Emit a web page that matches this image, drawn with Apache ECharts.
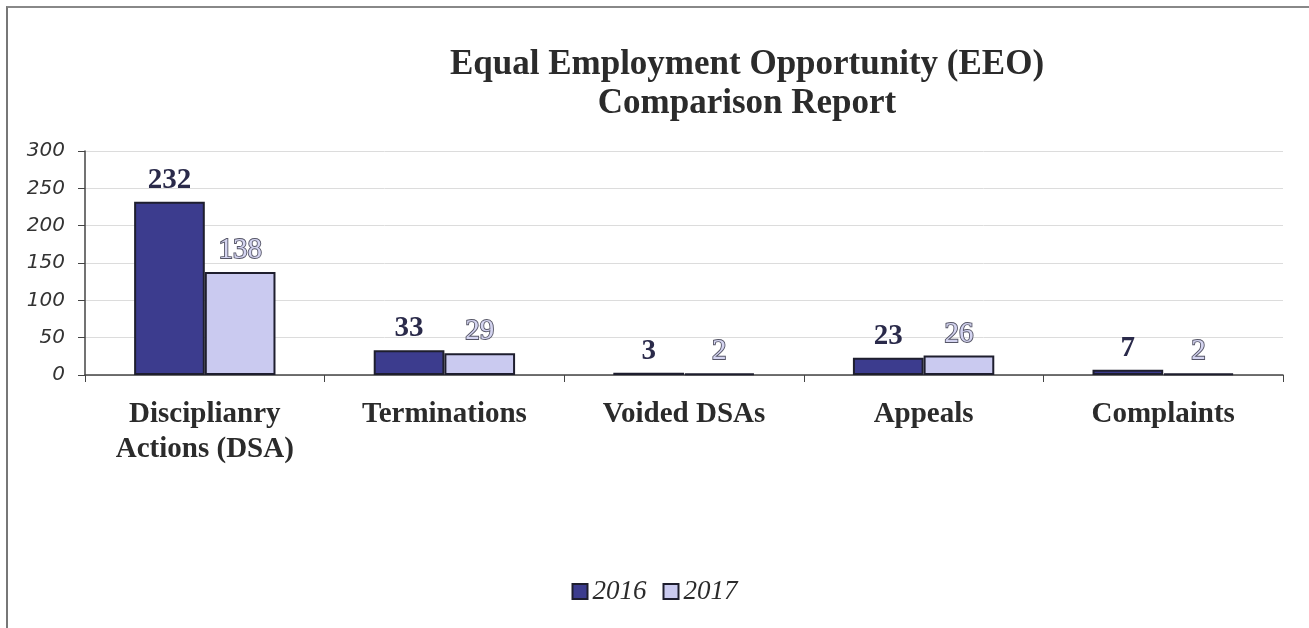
<!DOCTYPE html>
<html>
<head>
<meta charset="utf-8">
<script src="https://cdn.jsdelivr.net/npm/echarts@6/dist/echarts.min.js"></script>
<style>
  html, body { margin: 0; padding: 0; background: #fff; }
  #frame { position: absolute; left: 6px; top: 6px; width: 1303px; height: 640px; border-left: 2px solid #777; border-top: 2px solid #888; box-sizing: border-box; }
  #chart { width: 1309px; height: 628px; position: absolute; left: 0; top: 0; }
</style>
</head>
<body>
<div id="frame"></div>
<div id="chart"></div>
<script>
// Categories and yearly counts
const categories = ['Disciplianry\nActions (DSA)', 'Terminations', 'Voided DSAs', 'Appeals', 'Complaints'];
const values2016 = [232, 33, 3, 23, 7];
const values2017 = [138, 29, 2, 26, 2];
const yTicks = [0, 50, 100, 150, 200, 250, 300];

const chart = echarts.init(document.getElementById('chart'));

const serif = '"Liberation Serif", "Times New Roman", serif';
const sans = '"DejaVu Sans", "Open Sans", sans-serif';

chart.setOption({
  backgroundColor: 'transparent',
  animation: false,
  title: {
    text: 'Equal Employment Opportunity (EEO)\nComparison Report',
    left: 742,
    textAlign: 'center',
    top: 40,
    textStyle: { fontFamily: serif, fontWeight: 'bold', fontSize: 35, lineHeight: 39, color: '#2b2b2b' }
  },
  legend: {
    bottom: 18,
    left: 'center',
    itemWidth: 15,
    itemHeight: 15,
    itemGap: 16,
    icon: 'rect',
    textStyle: { fontFamily: serif, fontStyle: 'italic', fontSize: 27, color: '#2b2b2b' },
    data: ['2016', '2017']
  },
  grid: { left: 85, right: 26, top: 151, bottom: 253, containLabel: false },
  xAxis: {
    type: 'category',
    data: categories,
    axisLine: { lineStyle: { color: '#444', width: 1.5 } },
    axisTick: { show: true, length: 7, lineStyle: { color: '#444' } },
    axisLabel: {
      fontFamily: serif, fontWeight: 'bold', fontSize: 29, lineHeight: 35,
      color: '#2b2b2b', margin: 22, interval: 0
    }
  },
  yAxis: {
    type: 'value',
    min: yTicks[0],
    max: yTicks[yTicks.length - 1],
    interval: 50,
    axisLine: { show: true, lineStyle: { color: '#444', width: 1.5 } },
    axisTick: { show: true, length: 7, lineStyle: { color: '#444' } },
    splitLine: { lineStyle: { color: '#dcdcdc', width: 1 } },
    axisLabel: {
      fontFamily: sans, fontStyle: 'italic', fontSize: 20, color: '#333', margin: 20
    }
  },
  series: [
    {
      name: '2016',
      type: 'bar',
      data: values2016,
      barGap: '0%',
      barCategoryGap: '41%',
      itemStyle: { color: '#3c3c8e', borderColor: '#1e1e2e', borderWidth: 2 },
      label: {
        show: true, position: 'top', distance: 7,
        fontFamily: serif, fontWeight: 'bold', fontSize: 29, color: '#2a2a4a'
      }
    },
    {
      name: '2017',
      type: 'bar',
      data: values2017,
      itemStyle: { color: '#cacaf0', borderColor: '#1e1e2e', borderWidth: 2 },
      label: {
        show: true, position: 'top', distance: 7,
        fontFamily: serif, fontSize: 29, color: '#d4d4f0',
        textBorderColor: '#555566', textBorderWidth: 1.8
      }
    }
  ]
});
</script>
</body>
</html>
